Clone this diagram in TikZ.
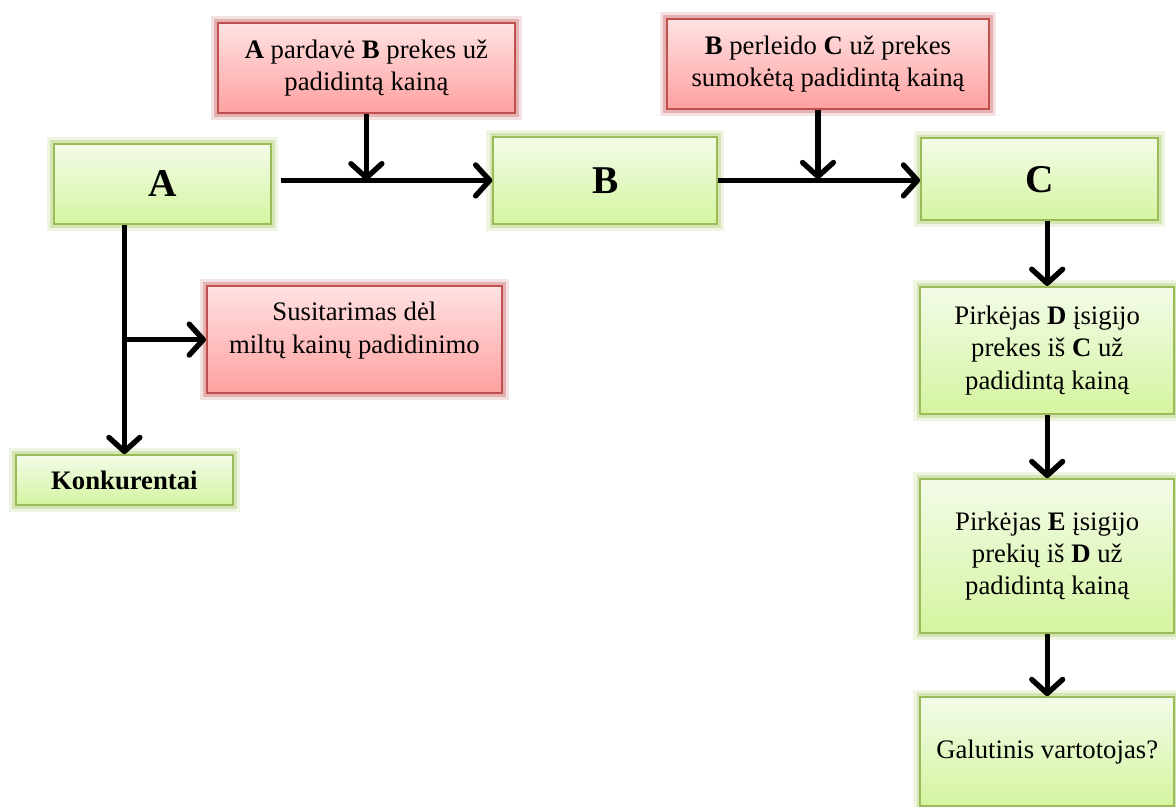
\documentclass[tikz,border=0pt]{standalone}
\usepackage{fontspec}
\setmainfont{Liberation Serif}
\usetikzlibrary{positioning, arrows.meta}

\definecolor{boxgreen}{RGB}{155,187,89}
\definecolor{greentop}{RGB}{243,251,232}
\definecolor{greenbot}{RGB}{212,245,160}
\definecolor{glowgreen}{RGB}{165,200,95}
\definecolor{boxred}{RGB}{192,80,77}
\definecolor{redtop}{RGB}{255,226,226}
\definecolor{redbot}{RGB}{255,160,160}
\definecolor{glowred}{RGB}{195,90,88}

\newcommand{\bodyfont}{\fontsize{19pt}{23pt}\selectfont}
\newcommand{\firmfont}{\fontsize{28pt}{32pt}\selectfont\bfseries}

\begin{document}
\begin{tikzpicture}[
    % boxes of the scheme, soft glow drawn under the frame
    greenbox/.style={rectangle, draw=boxgreen, line width=1.2pt, top color=greentop, bottom color=greenbot,
        inner sep=0pt, align=center, font=\bodyfont,
        preaction={draw=glowgreen, line width=10pt, opacity=0.18},
        preaction={draw=glowgreen, line width=5pt, opacity=0.35}},
    redbox/.style={rectangle, draw=boxred, line width=1.2pt, top color=redtop, bottom color=redbot,
        inner sep=0pt, align=center, font=\bodyfont,
        preaction={draw=glowred, line width=10pt, opacity=0.18},
        preaction={draw=glowred, line width=5pt, opacity=0.35}},
    firm/.style={greenbox, font=\firmfont},
    arrow/.style={-{Straight Barb[length=10pt, width=22pt, round]}, line width=3.8pt, black}
]
    \useasboundingbox (0,0) rectangle (29.4,-20.175);

    % 1. Firms in the chain
    \node[firm, minimum width=5.43cm, minimum height=2cm] (A) at (4.06,-4.60) {A};
    \node[firm, minimum width=5.6cm, minimum height=2.18cm] (B) at (15.13,-4.51) {B};
    \node[firm, minimum width=5.93cm, minimum height=2.05cm] (C) at (25.99,-4.48) {C};

    % 2. Price agreements and sales (red)
    \node[redbox, minimum width=7.43cm, minimum height=2.25cm] (sale) at (9.16,-1.70)
        {\textbf{A} pardavė \textbf{B} prekes už\\ padidintą kainą};
    \node[redbox, minimum width=8.05cm, minimum height=2.25cm] (resale) at (20.70,-1.60)
        {\textbf{B} perleido \textbf{C} už prekes\\ sumokėtą padidintą kainą};
    \node[redbox, minimum width=7.38cm, minimum height=2.68cm] (deal) at (8.86,-8.49)
        {Susitarimas dėl\\ miltų kainų padidinimo\\[-6pt] \mbox{}};

    % 3. Competitors under A
    \node[greenbox, font=\bodyfont\bfseries, minimum width=5.43cm, minimum height=1.25cm] (rivals) at (3.11,-12.0) {Konkurentai};

    % 4. Buyers down the right column
    \node[greenbox, minimum width=6.35cm, minimum height=3.18cm] (buyerD) at (26.18,-8.76)
        {Pirkėjas \textbf{D} įsigijo\\ prekes iš \textbf{C} už\\ padidintą kainą};
    \node[greenbox, minimum width=6.35cm, minimum height=3.85cm] (buyerE) at (26.18,-13.9)
        {Pirkėjas \textbf{E} įsigijo\\ prekių iš \textbf{D} už\\ padidintą kainą};
    \node[greenbox, minimum width=6.35cm, minimum height=2.73cm] (enduser) at (26.18,-18.79)
        {Galutinis vartotojas?};

    % 5. Arrows along the chain
    \draw[arrow] ([xshift=0.22cm]A.east |- B.west) -- (B.west);
    \draw[arrow] (sale.south) -- (sale.south |- B.west);
    \draw[arrow] (B.east) -- (B.east -| C.west);
    \draw[arrow] ([xshift=-0.25cm]resale.south) -- ([xshift=-0.25cm]resale.south |- C.west);

    \draw[arrow] (rivals.north |- A.south) -- (rivals.north);
    \draw[arrow] (rivals.north |- deal.west) -- (deal.west);

    \draw[arrow] (buyerD.north |- C.south) -- (buyerD.north);
    \draw[arrow] (buyerD.south) -- (buyerE.north);
    \draw[arrow] (buyerE.south) -- (enduser.north);

\end{tikzpicture}
\end{document}
